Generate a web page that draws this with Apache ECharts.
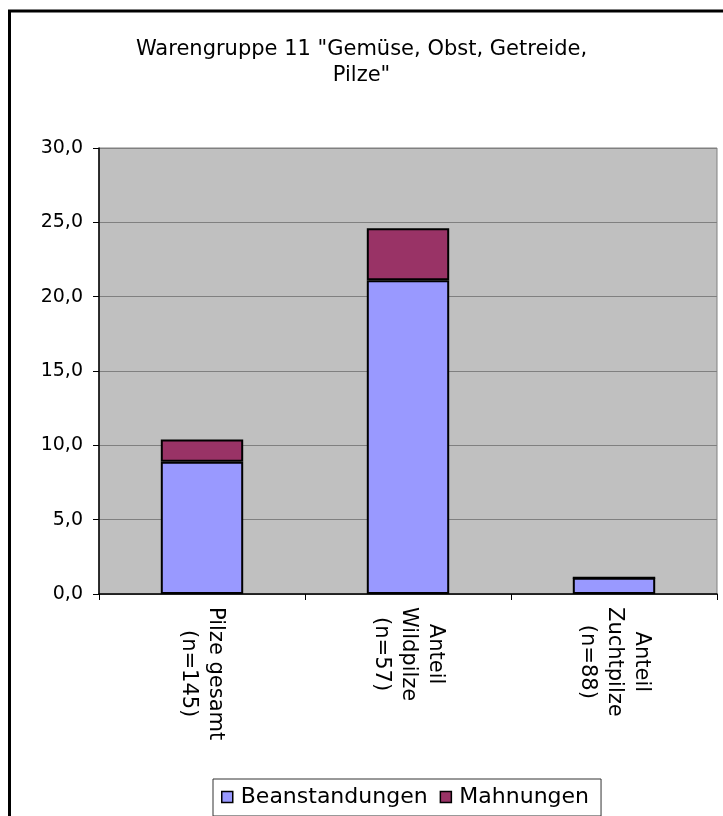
<!DOCTYPE html>
<html>
<head>
<meta charset="utf-8">
<script src="https://cdn.jsdelivr.net/npm/echarts@6/dist/echarts.min.js"></script>
<style>
    html, body { margin: 0; padding: 0; background: #fff; }
    #chart { width: 723px; height: 816px; }
</style>
</head>
<body>
<div id="chart"></div>
<script>
const categories = ['Pilze gesamt\n(n=145)', 'Anteil\nWildpilze\n(n=57)', 'Anteil\nZuchtpilze\n(n=88)']
const beanstandungen = [8.9, 21.1, 1.1]
const mahnungen = [1.5, 3.5, 0]
const yTicks = [0, 5, 10, 15, 20, 25, 30]

const FONT = 'DejaVu Sans'

// jede Zeile der Kategorie zentriert im Block
function catLabel(value) {
    return value.split('\n').map(line => '{c|' + line + '}').join('\n')
}

function yLabel(value) {
    return value.toFixed(1).replace('.', ',')
}

const chart = echarts.init(document.getElementById('chart'))

const option = {
    animation: false,
    backgroundColor: '#fff',
    textStyle: { fontFamily: FONT },
    title: {
        text: 'Warengruppe 11 "Gemüse, Obst, Getreide,\nPilze"',
        left: 'center',
        top: 32,
        textStyle: {
            fontFamily: FONT,
            fontSize: 21,
            fontWeight: 'normal',
            color: '#000',
            lineHeight: 26,
        },
    },
    graphic: [
        {
            type: 'rect',
            z: -1,
            shape: { x: 9.5, y: 11, width: 760, height: 860 },
            style: { fill: 'none', stroke: '#000', lineWidth: 3 },
        },
    ],
    grid: {
        left: 99,
        right: 6,
        top: 148,
        bottom: 222,
        show: true,
        backgroundColor: '#C0C0C0',
        borderColor: '#808080',
        borderWidth: 1,
    },
    legend: {
        left: 213,
        top: 779,
        data: ['Beanstandungen', 'Mahnungen'],
        icon: 'rect',
        itemWidth: 11,
        itemHeight: 11,
        itemGap: 12,
        padding: [7, 12, 8, 8],
        borderColor: '#333',
        borderWidth: 1,
        textStyle: { fontFamily: FONT, fontSize: 22, color: '#000', padding: [0, 0, 0, 3] },
        itemStyle: { borderColor: '#000', borderWidth: 1.5 },
    },
    xAxis: {
        type: 'category',
        data: categories,
        axisLine: { lineStyle: { color: '#000', width: 1.5 } },
        axisTick: { show: true, length: 6, lineStyle: { color: '#000' } },
        axisLabel: {
            interval: 0,
            rotate: -90,
            margin: 13,
            formatter: catLabel,
            rich: {
                c: {
                    align: 'center',
                    fontFamily: FONT,
                    fontSize: 21,
                    lineHeight: 27,
                    color: '#000',
                },
            },
        },
    },
    yAxis: {
        type: 'value',
        min: yTicks[0],
        max: yTicks[yTicks.length - 1],
        interval: yTicks[1] - yTicks[0],
        axisLine: { show: true, lineStyle: { color: '#000', width: 1.5 } },
        axisTick: { show: true, length: 6, lineStyle: { color: '#000' } },
        splitLine: { show: true, lineStyle: { color: '#808080', width: 1 } },
        axisLabel: {
            formatter: yLabel,
            margin: 16,
            fontFamily: FONT,
            fontSize: 19,
            color: '#000',
        },
    },
    series: [
        {
            name: 'Beanstandungen',
            type: 'bar',
            stack: 'total',
            barWidth: '40%',
            data: beanstandungen,
            itemStyle: { color: '#9999FF', borderColor: '#000', borderWidth: 2 },
        },
        {
            name: 'Mahnungen',
            type: 'bar',
            stack: 'total',
            barWidth: '40%',
            data: mahnungen,
            itemStyle: { color: '#993366', borderColor: '#000', borderWidth: 2 },
        },
    ],
}

chart.setOption(option)
</script>
</body>
</html>
